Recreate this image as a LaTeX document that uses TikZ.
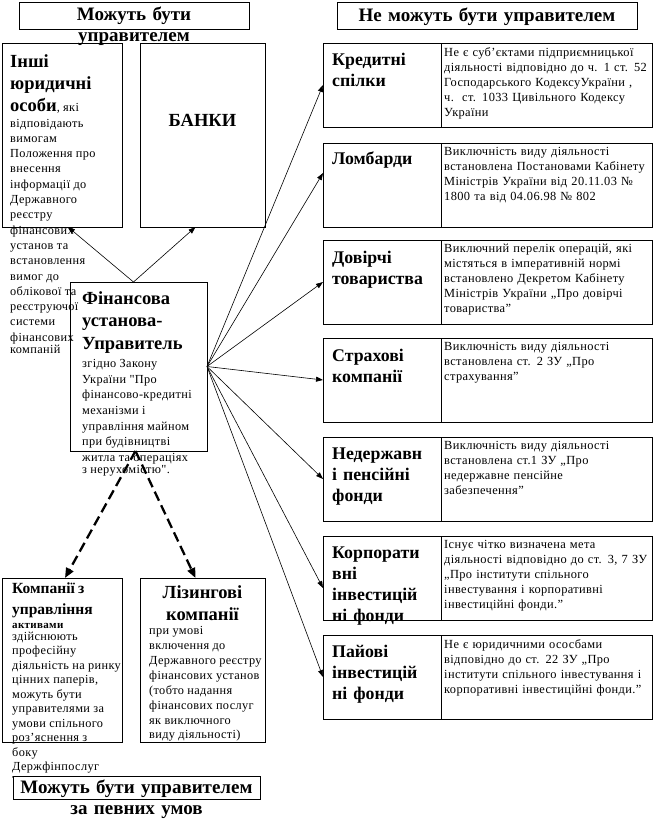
\documentclass[tikz,border=0pt]{standalone}
\usepackage{fontspec}
\setmainfont{Liberation Serif}[Ligatures=TeXOff]
\usetikzlibrary{arrows.meta}
\newcommand\hdrfont{\fontsize{19}{21}\selectfont\bfseries}
\newcommand\bigfont{\fontsize{18.5}{22.5}\selectfont\bfseries}
\newcommand\midfont{\fontsize{17.8}{21}\selectfont\bfseries}
\newcommand\compfont{\fontsize{15.5}{21}\selectfont\bfseries}
\newcommand\smallfont{\normalfont\fontsize{12.3}{15}\selectfont\addfontfeature{LetterSpace=3}}
\newcommand\descfont{\normalfont\fontsize{12.4}{15}\selectfont\addfontfeature{LetterSpace=3}}
\tikzset{
  >={Triangle[length=7pt,width=5pt]},
  frame/.style={draw,line width=1pt,anchor=north west,inner sep=0pt,outer sep=0pt},
  headbox/.style={frame,fill=white,minimum height=27pt},
  bigbox/.style={frame,minimum width=120pt},
  cellbox/.style={frame,minimum height=84pt},
  txt/.style={anchor=north west,inner sep=0pt,align=left,text width=200pt},
  htxt/.style={anchor=north,inner sep=0pt,align=center,text width=#1,font=\hdrfont},
  celltxt/.style={txt,font=\midfont},
  desctxt/.style={txt,text width=300pt,font=\descfont},
  arrow/.style={->,line width=0.6pt},
  dasharrow/.style={-{Triangle[length=10pt,width=8pt]},line width=2.3pt,dash pattern=on 10pt off 5pt},
}
\begin{document}
\begin{tikzpicture}[x=1pt,y=-1pt]
  \fill[white] (0,0) rectangle (654,819);
  \useasboundingbox (0,0) rectangle (654,819);

  \node[headbox,minimum width=230pt] (canH) at (19,2) {};
  \node[htxt=230pt] (canHT) at ([yshift=-5pt]canH.north) {Можуть бути\\управителем};
  \node[headbox,minimum width=300pt] (cantH) at (337,2) {};
  \node[htxt=300pt] (cantHT) at ([yshift=-6pt]cantH.north) {Не можуть бути управителем};

  \node[bigbox,minimum height=184pt] (ishi) at (2,43) {};
  \node[bigbox,minimum height=184pt,minimum width=125pt] (bank) at (140,43) {};
  \node[anchor=center,font=\bigfont] (bankT) at ([yshift=15pt]bank.center) {БАНКИ};
  \node[txt] (ishiT) at ([shift={(8,11)}]ishi.north west) {\bigfont Інші\\юридичні\\[4pt]особи\smallfont\baselineskip=15.3pt, які\\відповідають\\вимогам\\Положення про\\внесення\\інформації до\\Державного\\реєстру\\фінансових\\установ та\\встановлення\\вимог до\\облікової та\\реєструючої\\системи\\фінансових\\компаній};

  \node[frame,minimum width=137pt,minimum height=169pt] (ctr) at (70,282) {};
  \node[txt] (ctrT) at ([shift={(12,9)}]ctr.north west) {\bigfont Фінансова\\установа-\\Управитель\\[3pt]\smallfont\baselineskip=15.6pt згідно Закону\\України "Про\\фінансово-кредитні\\механізми і\\управління майном\\при будівництві\\житла та операціях\\з нерухомістю".};

  \node[cellbox,minimum width=118pt] (kred) at (323,43) {};
  \node[cellbox,minimum width=211pt] (kredD) at (441,43) {};
  \node[celltxt] (kredT) at ([shift={(9,10)}]kred.north west) {Кредитні\\спілки};
  \node[desctxt] (kredN) at ([shift={(3,4)}]kredD.north west) {Не є суб’єктами підприємницької\\діяльності відповідно до ч. 1 ст. 52\\Господарського КодексуУкраїни ,\\ч.\ \ ст. 1033 Цивільного Кодексу\\України};

  \node[cellbox,minimum width=118pt] (lomb) at (323,143) {};
  \node[cellbox,minimum width=211pt] (lombD) at (441,143) {};
  \node[celltxt] (lombT) at ([shift={(9,9)}]lomb.north west) {Ломбарди};
  \node[desctxt] (lombN) at ([shift={(3,4)}]lombD.north west) {Виключність виду діяльності\\встановлена Постановами Кабінету\\Міністрів України від 20.11.03 №\\1800 та від 04.06.98 № 802};

  \node[cellbox,minimum width=118pt] (dov) at (323,240) {};
  \node[cellbox,minimum width=211pt] (dovD) at (441,240) {};
  \node[celltxt] (dovT) at ([shift={(9,11)}]dov.north west) {Довірчі\\товариства};
  \node[desctxt] (dovN) at ([shift={(3,4)}]dovD.north west) {Виключний перелік операцій, які\\містяться в імперативній нормі\\встановлено Декретом Кабінету\\Міністрів України „Про довірчі\\товариства”};

  \node[cellbox,minimum width=118pt] (strakh) at (323,338) {};
  \node[cellbox,minimum width=211pt] (strakhD) at (441,338) {};
  \node[celltxt] (strakhT) at ([shift={(9,11)}]strakh.north west) {Страхові\\компанії};
  \node[desctxt] (strakhN) at ([shift={(3,4)}]strakhD.north west) {Виключність виду діяльності\\встановлена ст. 2 ЗУ „Про\\страхування”};

  \node[cellbox,minimum width=118pt] (npf) at (323,437) {};
  \node[cellbox,minimum width=211pt] (npfD) at (441,437) {};
  \node[celltxt] (npfT) at ([shift={(9,11)}]npf.north west) {Недержавн\\і пенсійні\\фонди};
  \node[desctxt] (npfN) at ([shift={(3,4)}]npfD.north west) {Виключність виду діяльності\\встановлена ст.1 ЗУ „Про\\недержавне пенсійне\\забезпечення”};

  \node[cellbox,minimum width=118pt] (kif) at (323,536) {};
  \node[cellbox,minimum width=211pt] (kifD) at (441,536) {};
  \node[celltxt] (kifT) at ([shift={(9,11)}]kif.north west) {Корпорати\\вні\\інвестицій\\ні фонди};
  \node[desctxt] (kifN) at ([shift={(3,4)}]kifD.north west) {Існує чітко визначена мета\\діяльності відповідно до ст. 3, 7 ЗУ\\„Про інститути спільного\\інвестування і корпоративні\\інвестиційні фонди.”};

  \node[cellbox,minimum width=118pt] (pif) at (323,635) {};
  \node[cellbox,minimum width=211pt] (pifD) at (441,635) {};
  \node[celltxt] (pifT) at ([shift={(9,10)}]pif.north west) {Пайові\\інвестицій\\ні фонди};
  \node[desctxt] (pifN) at ([shift={(3,4)}]pifD.north west) {Не є юридичними ососбами\\відповідно до ст. 22 ЗУ „Про\\інститути спільного інвестування і\\корпоративні інвестиційні фонди.”};

  \node[bigbox,minimum height=164pt] (comp) at (2,578) {};
  \node[txt] (compT) at ([shift={(10,5)}]comp.north west) {\compfont Компанії з\\управління\\[1pt]\smallfont\fontsize{11}{13}\selectfont\bfseries активами\\[-3pt]\smallfont\baselineskip=14.5pt здійснюють\\професійну\\діяльність на ринку\\цінних паперів,\\можуть бути\\управителями за\\умови спільного\\роз’яснення з\\боку\\Держфінпослуг\\т};
  \node[bigbox,minimum height=164pt,minimum width=125pt] (lease) at (140,578) {};
  \node[htxt=125pt,font=\bigfont] (leaseH) at ([yshift=-7pt]lease.north) {Лізингові\\компанії};
  \node[txt] (leaseT) at ([shift={(9,48)}]lease.north west) {\smallfont при умові\\включення до\\Державного реєстру\\фінансових установ\\(тобто надання\\фінансових послуг\\як виключного\\[2pt]виду діяльності)};

  \node[headbox,minimum width=247pt,minimum height=23pt] (condH) at (13,776) {};
  \node[htxt=247pt] (condHT) at ([yshift=-4pt]condH.north) {Можуть бути управителем\\за певних умов};

  \draw[arrow] ([xshift=-5pt]ctr.north) -- ([xshift=6pt]ishi.south);
  \draw[arrow] ([xshift=-5pt]ctr.north) -- ([xshift=-7pt]bank.south);
  \draw[arrow] (ctr.east) -- (kred.west);
  \draw[arrow] (ctr.east) -- ([yshift=12pt]lomb.west);
  \draw[arrow] (ctr.east) -- (dov.west);
  \draw[arrow] (ctr.east) -- (strakh.west);
  \draw[arrow] (ctr.east) -- (npf.west);
  \draw[arrow] (ctr.east) -- ([yshift=-10pt]kif.west);
  \draw[arrow] (ctr.east) -- (pif.west);
  \draw[dasharrow] ([xshift=-3pt]ctr.south) -- ([xshift=3pt]comp.north);
  \draw[dasharrow] ([xshift=-3pt]ctr.south) -- ([xshift=-7pt]lease.north);
\end{tikzpicture}
\end{document}
